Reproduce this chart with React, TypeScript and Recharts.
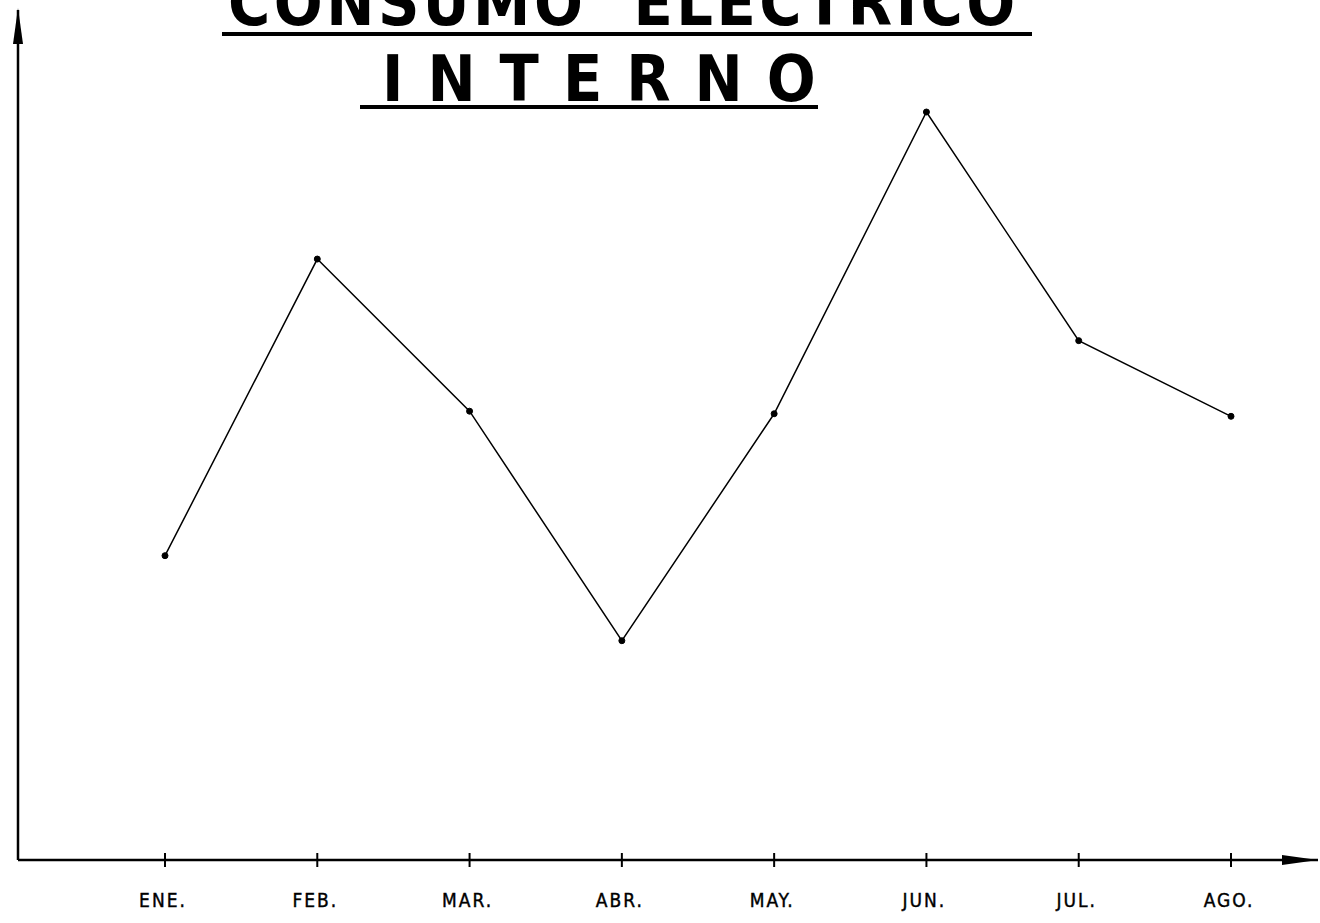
import React from "react";
import { LineChart, Line, XAxis, YAxis } from "recharts";

const months = ["ENE.", "FEB.", "MAR.", "ABR.", "MAY.", "JUN.", "JUL.", "AGO."];
const consumo = [35.8, 70.7, 52.8, 25.8, 52.5, 88.0, 61.1, 52.2];

const data = months.map((m, i) => ({ mes: m, valor: consumo[i] }));

const W = 1320;
const H = 923;

function MonthTick(props: any) {
  const { x, y, payload } = props;
  return (
    <g>
      <line x1={x} y1={y - 7} x2={x} y2={y + 7} stroke="#000" strokeWidth={2} />
      <text
        x={x - 2}
        y={y + 47}
        textAnchor="middle"
        fontSize={19}
        fontFamily="'DejaVu Sans Condensed', 'DejaVu Sans', sans-serif"
        letterSpacing={2}
        fill="#000"
        stroke="#000"
        strokeWidth={0.4}
      >
        {payload.value}
      </text>
    </g>
  );
}

const titleFont: React.CSSProperties = {
  position: "absolute",
  fontFamily: "'DejaVu Sans Condensed', 'DejaVu Sans', sans-serif",
  fontWeight: 700,
  fontSize: 64,
  lineHeight: 1,
  color: "#000",
  whiteSpace: "nowrap",
};

export default function App() {
  return (
    <div style={{ position: "absolute", left: 0, top: 0, width: W, height: H, background: "#fff", overflow: "hidden" }}>
      <LineChart width={W} height={H} data={data} margin={{ top: 10, right: 2, bottom: 62, left: 0 }}>
        <XAxis
          dataKey="mes"
          height={1}
          padding={{ left: 147, right: 87 }}
          axisLine={{ stroke: "#000", strokeWidth: 2.5 }}
          tickLine={false}
          tickSize={0}
          tickMargin={0}
          tick={<MonthTick />}
          interval={0}
        />
        <YAxis
          width={18}
          domain={[0, 100]}
          axisLine={{ stroke: "#000", strokeWidth: 2.5 }}
          tick={false}
          tickLine={false}
        />
        <Line
          type="linear"
          dataKey="valor"
          stroke="#000"
          strokeWidth={1.5}
          dot={{ r: 3, fill: "#000", stroke: "#000", strokeWidth: 1 }}
          isAnimationActive={false}
        />
        {/* flechas de los ejes */}
        <path d="M 18 8 L 13 44 L 23 44 Z" fill="#000" />
        <path d="M 1318 860 L 1282 855 L 1282 865 Z" fill="#000" />
      </LineChart>

      <div style={{ ...titleFont, left: 228, top: -29, letterSpacing: 3.5 }}>CONSUMO&nbsp;&nbsp;ELECTRICO</div>
      <div style={{ position: "absolute", left: 222, top: 32, width: 810, height: 4, background: "#000" }} />
      <div style={{ ...titleFont, left: 382, top: 47, letterSpacing: 24 }}>INTERNO</div>
      <div style={{ position: "absolute", left: 360, top: 105, width: 458, height: 4, background: "#000" }} />
    </div>
  );
}
